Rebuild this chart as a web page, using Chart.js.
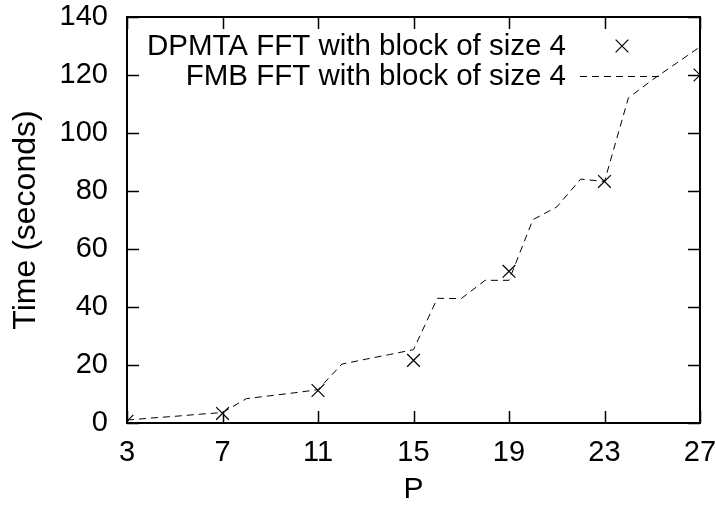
<!DOCTYPE html>
<html><head><meta charset="utf-8">
<script src="https://cdn.jsdelivr.net/npm/chart.js@4/dist/chart.umd.min.js"></script>
<style>html,body{margin:0;padding:0;background:#fff}#wrap{width:715px;height:508px;position:relative}</style>
</head><body><div id="wrap"><canvas id="c" width="715" height="508"></canvas></div>
<script>
// ---- data ----
const pValues   = [3,4,5,6,7,8,9,10,11,12,13,14,15,16,17,18,19,20,21,22,23,24,25,26,27];
const fmbTimes  = [1.0,1.7,2.3,3.0,3.6,8.4,9.4,10.4,11.5,20.3,22.0,23.6,25.3,43.0,42.9,49.2,49.2,70.1,74.5,84.1,83.3,112.1,118.3,124.0,129.7];
const dpmtaP     = [3,7,11,15,19,23,27];
const dpmtaTimes = [0.6,3.3,11.2,21.6,52.3,83.3,120.0];
const xTickValues = [3,7,11,15,19,23,27];
const yTickValues = [0,20,40,60,80,100,120,140];
const seriesLabels = ['DPMTA FFT with block of size 4','FMB FFT with block of size 4'];
const xTitle = 'P';
const yTitle = 'Time (seconds)';

const FONT = 'Liberation Sans, Arial, Helvetica, sans-serif';

const boxPlugin = {
  id: 'gnuplotBox',
  afterDatasetsDraw(chart) {
    const ctx = chart.ctx, a = chart.chartArea;
    const xs = chart.scales.x, ys = chart.scales.y;
    ctx.save();
    ctx.strokeStyle = '#000';
    ctx.lineWidth = 1.5;
    const T = 12;
    ctx.beginPath();
    xs.ticks.forEach(t => {
      const px = Math.round(xs.getPixelForValue(t.value)) + 0.5;
      ctx.moveTo(px, a.bottom); ctx.lineTo(px, a.bottom - T);
      ctx.moveTo(px, a.top); ctx.lineTo(px, a.top + T);
    });
    ys.ticks.forEach(t => {
      const py = Math.round(ys.getPixelForValue(t.value)) + 0.5;
      ctx.moveTo(a.left, py); ctx.lineTo(a.left + T, py);
      ctx.moveTo(a.right, py); ctx.lineTo(a.right - T, py);
    });
    ctx.stroke();
    ctx.lineWidth = 2;
    ctx.strokeRect(a.left, a.top, a.right - a.left, a.bottom - a.top);
    // legend (gnuplot style: text right-aligned, sample on the right)
    ctx.font = '29.5px ' + FONT;
    ctx.fillStyle = '#000';
    ctx.textAlign = 'right';
    ctx.textBaseline = 'middle';
    const rows = [46, 76];
    chart.data.datasets.forEach((ds, i) => {
      const y = rows[i];
      ctx.fillText(ds.label, 566, y + 1);
      if (ds.showLine === false) {
        ctx.strokeStyle = '#000'; ctx.lineWidth = ds.pointBorderWidth;
        Chart.helpers.drawPoint(ctx, {pointStyle: ds.pointStyle, radius: ds.pointRadius, borderWidth: ds.pointBorderWidth}, 622, y);
      } else {
        ctx.save();
        ctx.strokeStyle = ds.borderColor; ctx.lineWidth = ds.borderWidth;
        ctx.setLineDash(ds.borderDash);
        ctx.beginPath(); ctx.moveTo(580, y + 0.5); ctx.lineTo(662, y + 0.5); ctx.stroke();
        ctx.restore();
      }
    });
    ctx.restore();
  }
};

new Chart(document.getElementById('c'), {
  type: 'scatter',
  data: {
    datasets: [
      {
        label: seriesLabels[0],
        data: dpmtaP.map((p, i) => ({x: p, y: dpmtaTimes[i]})),
        showLine: false,
        pointStyle: 'crossRot',
        pointRadius: 9,
        pointBorderWidth: 1.2,
        borderColor: '#000',
        backgroundColor: '#000'
      },
      {
        label: seriesLabels[1],
        data: pValues.map((p, i) => ({x: p, y: fmbTimes[i]})),
        showLine: true,
        borderColor: '#000',
        borderWidth: 1,
        borderDash: [7, 5],
        pointRadius: 0,
        tension: 0
      }
    ]
  },
  options: {
    responsive: false,
    animation: false,
    devicePixelRatio: 1,
    layout: { padding: { top: 17, right: 15, left: 0, bottom: 0 } },
    plugins: { legend: { display: false }, tooltip: { enabled: false } },
    scales: {
      x: {
        type: 'linear', min: 3, max: 27,
        afterBuildTicks: s => { s.ticks = xTickValues.map(v => ({value: v})); },
        afterFit: s => { s.height = 85; s.paddingLeft = 0; s.paddingRight = 0; },
        grid: { display: false, drawTicks: false, tickLength: 0 },
        border: { display: false },
        ticks: { color: '#000', font: { family: FONT, size: 29 }, padding: 13, maxRotation: 0, autoSkip: false },
        title: { display: true, text: xTitle, color: '#000', font: { family: FONT, size: 30 }, padding: { top: 0, bottom: 0 } }
      },
      y: {
        type: 'linear', min: 0, max: 140,
        afterBuildTicks: s => { s.ticks = yTickValues.map(v => ({value: v})); },
        afterFit: s => { s.width = 127; s.paddingTop = 0; s.paddingBottom = 0; },
        grid: { display: false, drawTicks: false, tickLength: 0 },
        border: { display: false },
        ticks: { color: '#000', font: { family: FONT, size: 29 }, padding: 19 },
        title: { display: true, text: yTitle, color: '#000', font: { family: FONT, size: 32 }, padding: { top: 7, bottom: 0 } }
      }
    }
  },
  plugins: [boxPlugin]
});
</script>
</body></html>
